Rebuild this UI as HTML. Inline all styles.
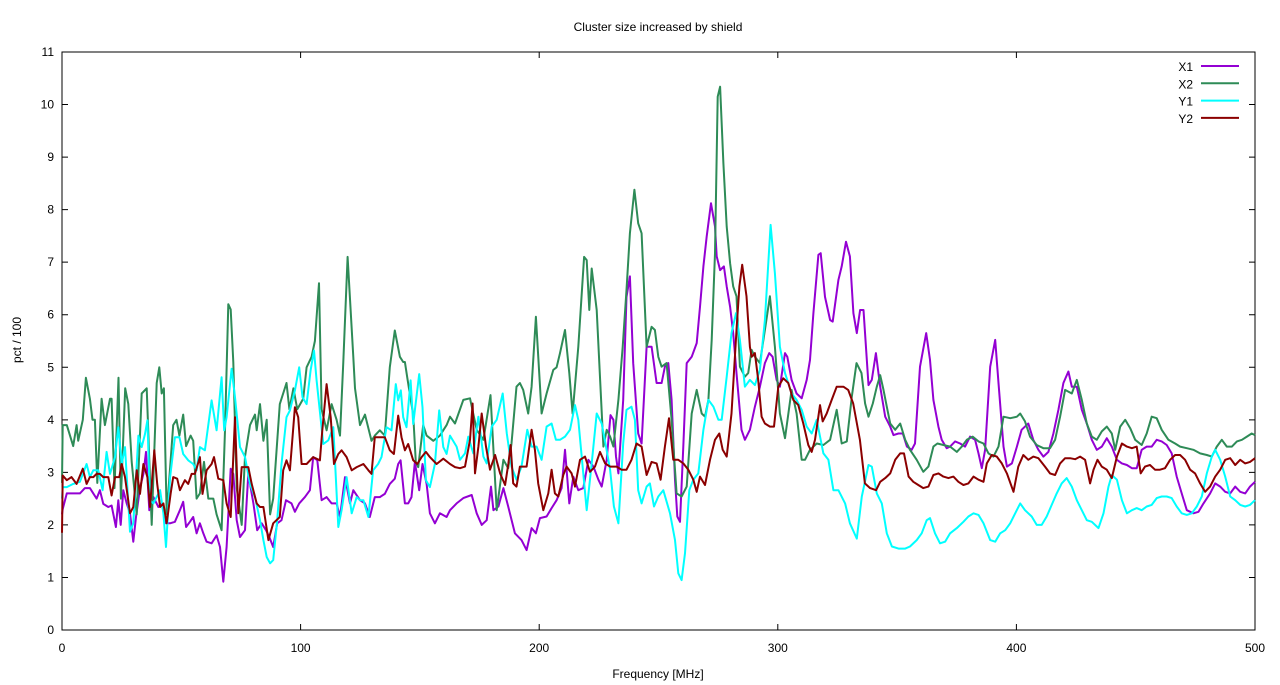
<!DOCTYPE html>
<html><head><meta charset="utf-8"><style>
html,body{margin:0;padding:0;background:#fff;}
svg{display:block;font-family:"Liberation Sans",sans-serif;font-size:12px;}
</style></head><body>
<svg id="chart" width="1280" height="685" viewBox="0 0 1280 685" xmlns="http://www.w3.org/2000/svg">
<rect width="1280" height="685" fill="#fff"/>
<text x="658" y="31" text-anchor="middle">Cluster size increased by shield</text>
<text x="658" y="678" text-anchor="middle">Frequency [MHz]</text>
<text transform="translate(21,340) rotate(-90)" text-anchor="middle">pct / 100</text>
<g id="axes"></g>
<g id="series"></g>
<g id="legend"></g>
</svg>
<script>
const xTicks=[0,100,200,300,400,500];
const yTicks=[0,1,2,3,4,5,6,7,8,9,10,11];
const seriesNames=["X1","X2","Y1","Y2"];
const seriesColors=["#9400d3","#2e8b57","#00ffff","#8b0000"];
const dataX1=[[0,2.2],[0.3,2.3],[2,2.6],[4.7,2.6],[7.5,2.6],[9.6,2.7],[11.7,2.7],[13.1,2.6],[14.5,2.5],[15.9,2.66],[17.3,2.4],[19.4,2.34],[20.8,2.37],[22.6,1.96],[23.6,2.47],[24.6,2.0],[25.7,2.66],[27.1,2.41],[28.5,2.22],[29.9,1.68],[31,2.15],[32.7,2.7],[34.1,2.97],[35.2,3.39],[36.6,2.28],[38.3,2.53],[40.4,2.34],[41.8,2.41],[43.6,2.03],[45.3,2.03],[47.3,2.06],[49.4,2.28],[50.8,2.44],[52,1.96],[53.6,2.06],[55,2.15],[56.4,1.84],[57.8,2.03],[59.2,1.84],[60.6,1.68],[62.7,1.65],[64.8,1.8],[66.2,1.58],[67.6,0.92],[69,1.58],[70.7,3.07],[71.8,2.97],[73.2,2.09],[74.6,1.77],[76.7,1.9],[78.1,2.97],[80.2,2.41],[81.8,1.9],[83.7,2.03],[85.5,1.9],[86.9,1.77],[88.5,1.58],[90.2,2.03],[92,2.09],[93.9,2.47],[96.2,2.41],[97.6,2.25],[99.4,2.41],[101.8,2.53],[103.9,2.66],[105.3,3.29],[107,3.23],[108.8,2.47],[110.9,2.53],[113,2.41],[115.1,2.41],[116.5,2.15],[118.6,2.91],[120.7,2.41],[122.1,2.66],[124.9,2.47],[127,2.41],[129,2.15],[131.1,2.53],[133.2,2.53],[135.3,2.59],[137.4,2.78],[139.5,2.88],[140.9,3.16],[141.9,3.23],[143.7,2.41],[145.1,2.41],[146.5,2.53],[147.9,3.2],[149.7,2.66],[151.1,3.16],[152.8,2.78],[154.2,2.22],[156.3,2.03],[158.4,2.22],[161.2,2.15],[162.6,2.28],[165.4,2.41],[168.2,2.51],[171.7,2.57],[173.8,2.22],[175.9,2.0],[178,2.09],[179.8,2.73],[180.8,2.28],[182.9,2.35],[185,2.7],[187,2.35],[189.8,1.84],[192.6,1.71],[194.7,1.52],[196.8,1.94],[198.6,1.84],[200.3,2.13],[203.1,2.16],[205.2,2.32],[207.3,2.47],[209.4,2.7],[210.8,3.43],[212.6,2.41],[214.3,2.92],[216.4,2.66],[218.5,2.7],[220.6,3.24],[222.7,3.11],[224.8,2.86],[226.2,2.73],[228.3,3.24],[229.9,4.09],[231.1,4.0],[232.2,3.3],[233.2,2.98],[235.2,4.38],[236.6,6.34],[238,6.73],[239.4,5.08],[241.5,3.74],[242.9,3.55],[245,5.39],[247.1,5.39],[249.2,4.7],[251.3,4.7],[252.7,5.01],[254.1,5.08],[255.5,4.38],[256.9,2.86],[257.9,2.16],[259,2.06],[260.4,3.49],[261.8,5.08],[263.9,5.2],[266,5.46],[267.4,6.15],[268.8,6.92],[270.2,7.49],[272,8.12],[273.7,7.68],[274.4,7.11],[275.8,6.85],[277.4,6.92],[278.6,6.54],[280,6.15],[281.3,5.65],[282.7,4.89],[284.8,3.81],[286.2,3.62],[288.3,3.81],[290.4,4.25],[292.5,4.63],[294.6,5.08],[296.4,5.27],[297.8,5.2],[299.5,4.76],[300.9,4.63],[303,5.27],[304,5.2],[305.8,4.76],[307.9,4.5],[310,4.41],[312.1,4.76],[313.5,5.14],[314.9,6.03],[317,7.14],[318,7.17],[319.8,6.34],[321.9,5.9],[323,5.87],[325.4,6.66],[326.8,6.92],[328.6,7.39],[330.2,7.11],[331.7,6.03],[333.1,5.65],[334.5,6.09],[335.9,6.09],[338,4.66],[339.4,4.76],[341.1,5.27],[342.9,4.63],[345,4.06],[347.1,3.87],[348.5,3.71],[350.6,3.74],[352.4,3.74],[354.1,3.49],[356.1,3.43],[357.5,3.55],[359.6,5.01],[362.2,5.65],[363.8,5.14],[365.2,4.38],[367.3,3.87],[368.7,3.62],[370.8,3.46],[372.2,3.49],[374.3,3.59],[376.4,3.55],[378.5,3.49],[380.6,3.68],[382.7,3.62],[384.1,3.36],[385.5,3.08],[386.9,3.43],[389,5.01],[391.1,5.52],[392.5,4.7],[394.6,3.49],[396,3.11],[398.1,3.17],[400.2,3.49],[402.2,3.81],[405,3.93],[407.1,3.62],[409.2,3.43],[411.3,3.3],[413.4,3.39],[415.5,3.74],[417.6,4.19],[419.7,4.7],[421.8,4.92],[423.2,4.63],[425.3,4.63],[427.4,4.19],[429.5,3.93],[431.6,3.62],[433.7,3.43],[435.8,3.49],[437.9,3.65],[440,3.49],[442.1,3.24],[444.2,3.17],[446.3,3.14],[448.4,3.08],[450.4,3.08],[452.5,3.43],[454.6,3.49],[456.7,3.49],[458.8,3.62],[460.9,3.59],[463,3.52],[465.1,3.36],[467.2,2.92],[469.3,2.6],[471.4,2.28],[474.2,2.22],[476.3,2.25],[478.4,2.41],[481.2,2.6],[483.3,2.79],[485.4,2.73],[487.5,2.63],[489.6,2.6],[491.7,2.73],[493.8,2.63],[495.9,2.6],[497.9,2.73],[500,2.82]];
const dataX2=[[0,2.8],[0.3,3.9],[2,3.9],[4.7,3.5],[6.1,3.9],[6.8,3.6],[8.7,4.0],[10,4.8],[11.7,4.4],[12.8,4.0],[13.8,4.0],[14.8,2.8],[16.6,4.4],[18,3.9],[20.1,4.4],[20.8,4.4],[22,2.7],[23.7,4.8],[24.7,2.5],[26.5,4.6],[27.8,4.3],[29.2,3.2],[31.3,2.2],[33.4,4.5],[35.5,4.6],[37.6,2.0],[39.7,4.7],[40.8,5.0],[41.8,4.5],[42.7,4.6],[43.9,2.2],[46.6,3.9],[48,4.0],[49.2,3.7],[50.8,4.1],[52,3.5],[53.9,3.7],[55,3.6],[56.4,2.5],[57.8,2.6],[59.5,3.2],[61.3,2.5],[63.4,2.5],[64.8,2.2],[66.9,1.9],[68.3,3.8],[69.7,6.2],[70.7,6.1],[71.8,5.1],[73.2,2.7],[75.3,2.0],[76.7,3.3],[78.8,3.9],[80.9,4.1],[81.6,3.8],[83,4.3],[84.4,3.6],[85.8,4.0],[87.2,2.2],[88.5,2.5],[91.3,4.3],[94.1,4.7],[95.3,4.2],[97,4.6],[98.6,4.2],[101.1,4.4],[102.5,5.0],[104.6,5.2],[106,5.5],[107.7,6.6],[108.8,4.2],[110.9,3.8],[113,4.3],[115.1,4.0],[116.5,3.7],[117.9,5.1],[119.7,7.1],[122.1,5.2],[122.8,4.6],[124.9,3.9],[127,4.1],[129.7,3.6],[131.1,3.7],[133.2,3.8],[135.3,3.7],[137.4,5.0],[139.5,5.7],[141.6,5.2],[143,5.1],[143.7,5.1],[144.7,4.8],[146.1,4.4],[147.2,4.1],[148.3,3.2],[149.3,3.1],[151.4,3.9],[152.8,3.7],[155.6,3.6],[158.4,3.7],[161.2,3.9],[162.6,4.06],[164.7,3.93],[168.2,4.38],[171,4.41],[173.8,3.81],[176.6,3.62],[179.6,4.47],[182.2,2.28],[185,3.24],[187,3.08],[188.4,3.55],[190.5,4.63],[191.9,4.7],[193.3,4.57],[195.4,4.12],[196.8,4.63],[198.6,5.96],[201,4.12],[203.1,4.5],[205.9,4.95],[207.3,5.0],[208.7,5.27],[210.8,5.71],[212.6,4.89],[214,4.12],[216.4,5.39],[218.8,7.1],[219.9,7.04],[221,6.09],[222,6.88],[224.1,6.09],[226.9,3.49],[228.3,3.81],[229.7,3.68],[231.1,3.49],[233.2,4.38],[235,5.39],[236.6,6.47],[238,7.55],[239.9,8.38],[241.5,7.74],[242.9,7.55],[245,5.39],[247.1,5.77],[248.5,5.71],[249.9,5.2],[251.3,5.01],[253.4,5.08],[255.5,4.0],[257.6,2.6],[259.7,2.54],[261.8,2.73],[263.9,4.12],[266,4.57],[268.1,4.12],[269.5,4.06],[270.9,4.38],[272.3,5.52],[273.7,7.17],[274.8,10.15],[275.8,10.34],[277.2,8.88],[278.6,7.68],[280,6.98],[281.3,6.54],[282.7,6.35],[284.1,5.01],[286.2,4.82],[287.6,4.89],[289,5.33],[290.4,5.2],[292.5,5.08],[294.6,5.71],[296.7,6.35],[298.8,5.39],[300.9,4.12],[303,3.65],[305.8,4.57],[307.9,4.12],[310,3.24],[311.4,3.24],[313.5,3.43],[316.3,3.55],[319.1,3.52],[321.9,3.62],[324.7,4.19],[326.8,3.55],[328.9,3.59],[331,4.44],[333,5.08],[335.1,4.89],[336.6,4.31],[338,4.06],[339.8,4.31],[341.5,4.63],[342.9,4.85],[344.3,4.57],[345.7,4.25],[347.1,3.93],[349.2,3.81],[351.3,3.93],[353.4,3.62],[355.4,3.43],[358.2,3.24],[361,3.01],[363.1,3.11],[365.2,3.49],[366.9,3.55],[369.4,3.52],[372.2,3.49],[375,3.39],[377.1,3.49],[379.2,3.62],[381.7,3.68],[384.1,3.59],[386.2,3.55],[388.3,3.36],[390.4,3.3],[392.5,3.49],[394.6,4.06],[397.4,4.03],[400.2,4.06],[401.6,4.12],[403.6,3.97],[405.7,3.68],[408.5,3.52],[411.3,3.46],[414.1,3.46],[416.2,3.62],[418.3,4.06],[420.4,4.57],[423.2,4.5],[425.3,4.76],[427.4,4.38],[429.5,3.93],[431.6,3.68],[433.7,3.62],[435.8,3.78],[437.9,3.87],[440,3.74],[441.4,3.43],[443.5,3.87],[445.6,4.0],[447.7,3.84],[449.8,3.62],[452.5,3.52],[454.6,3.74],[456.7,4.06],[458.8,4.03],[460.9,3.81],[463.7,3.62],[466.5,3.55],[468.6,3.49],[471.4,3.46],[474.2,3.43],[477,3.36],[479.8,3.33],[481.9,3.3],[484,3.49],[486.1,3.62],[488.2,3.49],[490.3,3.49],[492.4,3.59],[494.5,3.62],[496.6,3.68],[498.6,3.74],[500,3.71]];
const dataY1=[[0,2.5],[0.3,2.72],[2,2.72],[4.7,2.78],[7.5,2.82],[10.3,3.16],[11.7,2.91],[13.1,3.04],[15.2,3.04],[17,2.66],[18.7,3.39],[20.1,2.97],[22.2,3.29],[23.6,3.86],[25,3.16],[26.4,3.48],[28.5,1.87],[29.9,2.03],[32,3.7],[33.4,3.48],[34.8,3.73],[35.8,3.99],[36.9,2.47],[38.3,2.41],[41.1,2.66],[42.5,2.22],[43.6,1.58],[45.3,2.91],[47.3,3.67],[49.2,3.67],[50.8,3.35],[52.9,3.23],[55,3.16],[56.4,3.04],[57.8,3.48],[59.9,3.42],[62.7,4.37],[64.8,3.8],[66.9,4.81],[68,3.8],[69,4.05],[71.1,4.97],[72.5,4.43],[74.6,3.48],[76.7,3.29],[78.8,2.78],[80.9,2.53],[83,2.09],[84.4,1.71],[85.8,1.39],[87.2,1.27],[88.5,1.33],[90.2,2.09],[92,3.16],[94.1,4.05],[95.5,4.18],[97.6,4.56],[99.4,5.0],[100.8,4.43],[102.5,4.3],[104.2,4.94],[105.6,5.32],[106.7,4.75],[109.5,3.54],[111.6,3.61],[113.7,3.86],[115.8,1.96],[117.2,2.28],[119.3,2.91],[121.4,2.22],[123.5,2.53],[124.9,2.47],[126.3,2.47],[128.4,2.15],[130.4,3.04],[132.5,3.16],[133.9,3.29],[136,3.86],[138.1,3.8],[139.9,4.68],[140.9,4.37],[142,4.56],[143,4.05],[144.4,3.86],[146.1,4.75],[147.2,3.92],[149.7,4.87],[151.1,4.24],[152.5,2.85],[154.2,2.72],[156.3,3.16],[158.1,4.18],[159.8,3.48],[161.2,3.35],[162.6,3.7],[165.4,3.49],[166.8,3.24],[168.9,3.36],[170.3,3.68],[172.4,3.36],[174.5,4.06],[176.6,3.3],[178,3.17],[180.1,3.87],[182.2,4.0],[184.7,4.5],[186.4,3.74],[188.4,3.11],[190.5,2.86],[192.6,3.11],[195,3.81],[196.8,3.49],[198.9,3.49],[201,3.24],[203.1,3.87],[205.2,3.93],[207,3.62],[208.7,3.62],[210.8,3.68],[212.9,3.81],[215,4.28],[216.4,4.0],[217.8,3.3],[219.9,2.28],[222,3.17],[224.1,4.12],[226.2,3.93],[228,3.49],[229.7,3.05],[231.3,2.35],[233.2,2.03],[235.2,3.55],[236.6,4.19],[238.7,4.25],[240.1,4.0],[241.5,2.66],[242.9,2.41],[245,2.73],[246.4,2.79],[248.1,2.35],[249.9,2.54],[252,2.66],[254.8,2.22],[256.9,1.71],[258.3,1.08],[259.7,0.95],[261.1,1.46],[262.9,2.66],[264.6,2.86],[266.7,2.98],[268.8,3.81],[270.9,4.38],[273,4.25],[275.1,4.0],[276.5,4.0],[278.6,4.82],[280.6,5.65],[282.5,6.03],[284.1,5.52],[286.2,4.63],[288.3,4.76],[290.4,4.66],[292.5,4.95],[294.6,5.9],[297,7.71],[298.8,6.79],[300.9,5.39],[303,4.89],[305.8,4.5],[307.9,4.38],[310,4.19],[312.1,3.87],[314.2,3.74],[316.3,4.0],[319.1,3.36],[321.2,3.24],[323.3,2.66],[325.4,2.66],[328.2,2.41],[330.2,2.03],[333.1,1.74],[335.2,2.54],[338,3.14],[339.4,3.11],[341.5,2.6],[343.6,2.41],[345.7,1.84],[347.8,1.59],[350.6,1.55],[353.4,1.55],[355.4,1.59],[358.2,1.71],[360.3,1.84],[362.4,2.09],[363.8,2.13],[365.9,1.84],[368,1.65],[370.1,1.68],[372.2,1.84],[375,1.94],[377.8,2.06],[379.9,2.16],[382,2.22],[384.1,2.19],[386.2,2.03],[389,1.71],[391.1,1.68],[393.2,1.84],[395.3,1.9],[397.4,2.03],[399.5,2.22],[401.6,2.41],[403.6,2.28],[406.4,2.16],[408.5,2.0],[410.6,2.0],[412.7,2.16],[414.8,2.38],[416.9,2.6],[419,2.79],[421.1,2.89],[423.2,2.73],[425.3,2.47],[427.4,2.28],[429.5,2.09],[431.6,2.06],[434.4,1.94],[436.5,2.22],[438.6,2.73],[440,2.95],[442.1,2.86],[444.2,2.47],[446.3,2.22],[448.4,2.28],[450.4,2.32],[452.5,2.28],[454.6,2.35],[456.7,2.38],[458.8,2.51],[460.9,2.54],[463,2.54],[465.1,2.51],[467.2,2.35],[469.3,2.22],[471.4,2.19],[473.5,2.22],[475.6,2.35],[477.7,2.54],[479.8,2.98],[481.9,3.3],[483.3,3.43],[485.4,3.24],[487.5,2.92],[489.6,2.54],[491.7,2.47],[493.8,2.38],[495.9,2.35],[497.9,2.38],[500,2.47]];
const dataY2=[[0,1.85],[0.3,2.94],[2,2.85],[4,2.91],[6.1,2.78],[8.7,3.07],[10.3,2.78],[11.7,2.91],[13.1,2.91],[14.5,2.97],[15.9,2.97],[17.3,2.91],[19.4,2.91],[20.8,2.56],[22.2,2.91],[24,2.91],[25,3.16],[26.4,2.91],[28.5,2.22],[29.9,2.34],[31.3,3.04],[32.7,2.59],[34.1,3.16],[35.8,2.91],[36.9,2.34],[38.7,3.42],[39.9,2.78],[41.1,2.34],[42.5,2.41],[43.9,2.03],[45.5,2.59],[46.6,2.91],[48.3,2.88],[49.4,2.66],[51.5,2.85],[52.9,2.78],[54.3,2.97],[55.7,2.97],[57.8,3.29],[58.9,2.59],[60.6,3.04],[62.7,3.16],[63.7,3.29],[65.5,2.88],[67.6,2.85],[69,2.41],[70.7,2.15],[72.5,4.05],[73.9,2.22],[75.3,3.1],[76.7,3.1],[78.1,3.1],[79.5,2.78],[81.6,2.41],[83,2.34],[84.4,2.34],[86.5,1.71],[88.5,2.03],[91.3,2.15],[92.7,3.04],[94.1,3.23],[95.5,3.04],[97.6,4.24],[99,4.05],[100.4,3.16],[102.5,3.16],[105.3,3.29],[108.1,3.23],[109.1,3.8],[110.9,4.68],[112.6,4.05],[114,3.16],[115.8,3.35],[117.2,3.42],[119.3,3.29],[121.4,3.04],[123.5,3.1],[126.3,3.16],[128.4,3.04],[129.7,2.97],[131.1,3.67],[133.2,3.67],[135.3,3.67],[137.4,3.42],[139.1,3.35],[140.9,4.08],[142.3,3.67],[143.7,3.42],[145.1,3.54],[147.2,3.23],[148.9,3.16],[150.7,3.29],[152.5,3.39],[154.2,3.29],[157,3.16],[159.8,3.26],[162.6,3.16],[164.7,3.1],[166.8,3.08],[168.9,3.11],[171,3.62],[172.1,4.31],[173.1,2.98],[174.5,3.49],[175.9,4.12],[177.7,3.49],[179.4,3.05],[181.5,3.33],[183.6,2.98],[185.7,2.76],[187.1,3.17],[188,3.52],[189.1,2.79],[190.5,2.73],[191.9,3.11],[194.7,3.11],[196.8,3.81],[198.2,3.43],[199.6,2.79],[201.7,2.28],[203.8,2.6],[205.2,3.05],[206.6,2.6],[208,2.54],[210.1,2.95],[211.5,3.11],[213.6,2.98],[215,2.73],[217.1,3.24],[219.2,3.3],[221.3,3.01],[223.4,3.11],[225.5,3.39],[227.6,3.17],[229.7,3.11],[232.5,3.11],[234.5,3.05],[236.6,3.05],[238.7,3.24],[240.8,3.55],[242.9,3.49],[245,2.95],[247.1,3.2],[249.2,3.17],[250.9,2.86],[252.7,3.49],[254.4,4.03],[256.2,3.24],[258.3,3.24],[260.4,3.17],[262.5,3.05],[264.6,2.86],[266,2.63],[267.4,2.92],[269.5,2.76],[271.6,3.24],[273.7,3.62],[275.5,3.74],[276.9,3.43],[278.6,3.3],[280.6,4.12],[282.7,5.71],[283.9,6.54],[285.1,6.95],[286.9,6.35],[288.3,5.39],[289,5.2],[290.4,5.27],[291.8,4.76],[293.2,4.06],[294.6,3.93],[296.7,3.87],[298.4,3.87],[300.2,4.63],[302.3,4.79],[304.4,4.7],[306.5,4.38],[308.6,4.28],[310.7,3.93],[312.8,3.52],[314.2,3.39],[315.6,3.62],[317.7,4.28],[318.8,3.97],[320.5,4.12],[322.6,4.38],[324.7,4.63],[327.5,4.63],[329.5,4.57],[331.6,4.31],[334.4,3.62],[336.5,2.79],[338.7,2.7],[341.2,2.66],[342.9,2.82],[345,2.89],[347.1,2.98],[349.2,3.24],[351.3,3.36],[352.9,3.36],[354.8,2.92],[356.8,2.82],[358.9,2.76],[361,2.7],[363.1,2.73],[365.2,2.95],[367.3,2.98],[369.4,2.92],[371.5,2.89],[373.6,2.92],[375.7,2.82],[377.8,2.76],[379.9,2.79],[382,2.92],[384.1,2.86],[386.2,2.82],[387.6,3.17],[389.7,3.33],[391.8,3.3],[393.9,3.17],[396,2.98],[398.8,2.63],[400.8,3.11],[402.9,3.33],[405,3.24],[407.1,3.3],[409.2,3.27],[412,3.11],[414.1,2.98],[416.2,2.95],[418.3,3.17],[420.4,3.27],[422.5,3.27],[424.6,3.25],[426.7,3.3],[428.8,3.24],[430.9,2.79],[432.3,3.05],[434,3.24],[435.8,3.11],[437.9,3.05],[440,2.89],[442.1,3.3],[444.2,3.55],[446.3,3.49],[448.4,3.46],[450.4,3.49],[452.1,2.98],[453.9,3.11],[456,3.14],[458.1,3.05],[460.2,3.05],[462.3,3.08],[464.4,3.24],[466.5,3.33],[468.6,3.33],[470.7,3.24],[472.8,3.05],[474.9,2.98],[477,2.79],[479.1,2.63],[481.2,2.73],[483.3,2.92],[485.4,3.05],[487.5,3.24],[489.6,3.27],[491.7,3.14],[493.8,3.24],[495.9,3.17],[497.9,3.2],[500,3.27]];
const allData=[dataX1,dataX2,dataY1,dataY2];

const L=62,R=1255,T=52,B=630,xMax=500,yMax=11;
function xs(v){return L+(R-L)*v/xMax;}
function ys(v){return B-(B-T)*v/yMax;}
const NS="http://www.w3.org/2000/svg";
function mk(tag,attrs,parent){const e=document.createElementNS(NS,tag);for(const k in attrs)e.setAttribute(k,attrs[k]);parent.appendChild(e);return e;}
const axes=document.getElementById('axes');
const frame=mk('rect',{x:L,y:T,width:R-L,height:B-T,fill:'none',stroke:'#000','stroke-width':1},axes);


xTicks.forEach(t=>{
  const x=xs(t);
  const tk=mk('path',{d:`M${x},${B}v-6M${x},${T}v6`,stroke:'#000','stroke-width':1},axes);
  
  
  const lb=mk('text',{x:x,y:B+22,'text-anchor':'middle'},axes);lb.textContent=t;
  
  
});
yTicks.forEach(t=>{
  const y=ys(t);
  const tk=mk('path',{d:`M${L},${y}h6M${R},${y}h-6`,stroke:'#000','stroke-width':1},axes);
  
  
  const lb=mk('text',{x:L-8,y:y+4,'text-anchor':'end'},axes);lb.textContent=t;
  
  
});
const sg=document.getElementById('series');
allData.forEach((d,i)=>{
  const p=mk('path',{d:d.map((pt,j)=>(j?'L':'M')+xs(pt[0]).toFixed(1)+','+ys(pt[1]).toFixed(1)).join(''),fill:'none',stroke:seriesColors[i],'stroke-width':2,'stroke-linejoin':'round'},sg);
  
  
});
const lg=document.getElementById('legend');
seriesNames.forEach((n,i)=>{
  const y=66+i*17.3;
  const t=mk('text',{x:1193,y:y+5,'text-anchor':'end'},lg);t.textContent=n;
  
  
  const l=mk('line',{x1:1201,x2:1239,y1:y,y2:y,stroke:seriesColors[i],'stroke-width':2},lg);
  
  
});
</script>
</body></html>
